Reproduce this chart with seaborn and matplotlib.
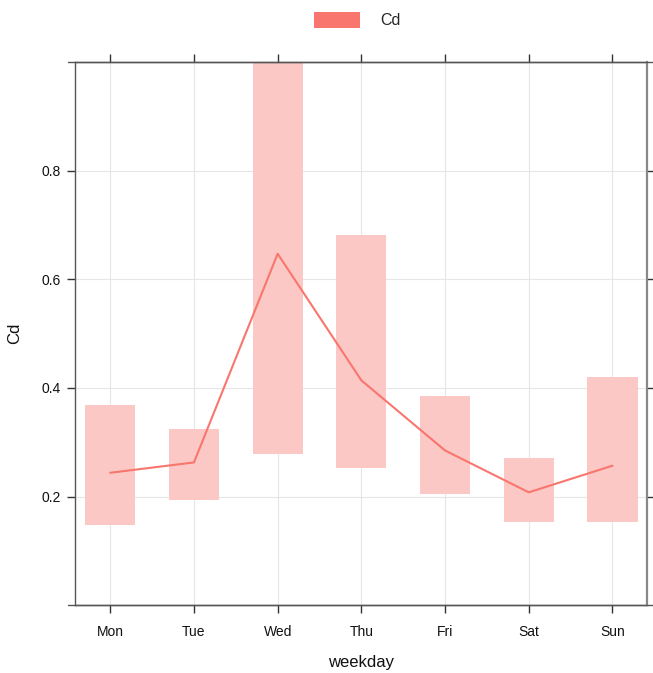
import numpy as np
import pandas as pd
import matplotlib
matplotlib.use("Agg")
import matplotlib.pyplot as plt
import seaborn as sns
from matplotlib.patches import Patch
from matplotlib.lines import Line2D

days = ["Mon", "Tue", "Wed", "Thu", "Fri", "Sat", "Sun"]
mean_cd = [0.244, 0.263, 0.647, 0.414, 0.285, 0.208, 0.257]
lower_cd = [0.147, 0.194, 0.279, 0.253, 0.205, 0.153, 0.153]
upper_cd = [0.368, 0.325, 1.02, 0.681, 0.386, 0.271, 0.421]
y_ticks = [0.2, 0.4, 0.6, 0.8]
y_tick_labels = ["0.2", "0.4", "0.6", "0.8"]

sns.set_theme(style="white")
plt.rcParams["font.family"] = ["Liberation Sans", "DejaVu Sans"]

df = pd.DataFrame({"weekday": days, "Cd": mean_cd, "lo": lower_cd, "hi": upper_cd})
line_col = "#F8766D"
fill_col = "#FBC8C5"

fig = plt.figure(figsize=(6.53, 6.73), dpi=100)
ax = fig.add_axes([0.115, 0.1005, 0.8755, 0.8075])

x = np.arange(len(days))
ax.bar(x, df["hi"] - df["lo"], bottom=df["lo"], width=0.6, color=fill_col,
       edgecolor="none", zorder=2)
sns.lineplot(x=x, y=df["Cd"], ax=ax, color=line_col, lw=1.5, zorder=3)

ax.set_xlim(-0.42, 6.41)
ax.set_ylim(0, 1)
ax.set_xticks(x)
ax.set_xticklabels(days)
ax.set_yticks(y_ticks)
ax.set_yticklabels(y_tick_labels)
ax.grid(True, color="#E6E6E6", lw=0.8, zorder=0)
ax.set_axisbelow(True)

for s in ax.spines.values():
    s.set_color("#555555")
    s.set_linewidth(1.0)
ax.spines["right"].set_color("#888888")
ax.spines["right"].set_linewidth(1.6)

# lattice-style axis lines extending slightly beyond the panel
for yy in (0, 1):
    ax.add_line(Line2D([-0.013, 1.011], [yy, yy], transform=ax.transAxes,
                       color="#555555", lw=1.0, clip_on=False))

ax.tick_params(axis="x", which="both", direction="out", length=6, width=1,
               color="#333333", top=True, bottom=True, labelsize=10, pad=8,
               labelcolor="#111111")
ax.tick_params(axis="y", which="both", direction="out", length=6, width=1,
               color="#333333", left=True, right=True, labelsize=10, pad=4,
               labelcolor="#111111")

ax.set_xlabel("weekday", fontsize=12, labelpad=12, color="#111111")
ax.set_ylabel("Cd", fontsize=12, labelpad=14, color="#111111")

handles = [Patch(facecolor=line_col, edgecolor="none", label="Cd")]
fig.legend(handles=handles, loc="upper center", bbox_to_anchor=(0.547, 1.0),
           frameon=False, fontsize=11.5, handlelength=2.9, handleheight=1.15,
           handletextpad=1.25, borderpad=0.25)

fig.savefig("out.png", dpi=100)
